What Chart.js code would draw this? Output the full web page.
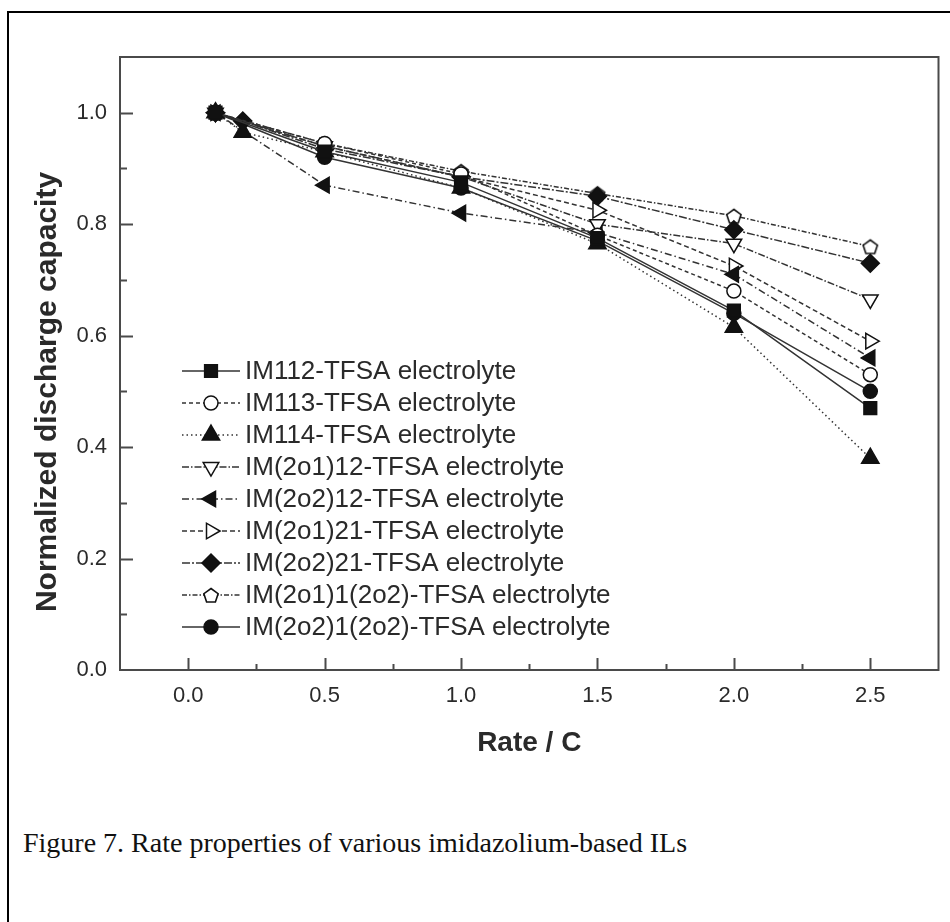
<!DOCTYPE html>
<html>
<head>
<meta charset="utf-8">
<script src="https://cdn.jsdelivr.net/npm/chart.js@4.4.1/dist/chart.umd.min.js"></script>
<style>
  html, body { margin: 0; padding: 0; background: #fff; width: 950px; height: 922px; overflow: hidden; }
  #frame { position: absolute; left: 7px; top: 11px; width: 1000px; height: 1000px; border: 2px solid #000; }
  #chart { position: absolute; left: 0; top: 0; }
  #caption { position: absolute; left: 23px; top: 828px; font-family: "Liberation Serif", "Times New Roman", serif;
             font-size: 28px; line-height: 30px; color: #111; white-space: nowrap; }
</style>
</head>
<body>
<div id="frame"></div>
<canvas id="chart" width="950" height="760"></canvas>
<div id="caption">Figure 7. Rate properties of various imidazolium-based ILs</div>
<script>
// rates (C) at which capacity was measured
const rates = [0.1, 0.5, 1.0, 1.5, 2.0, 2.5];
const ratesFine = [0.1, 0.2, 0.5, 1.0, 1.5, 2.0, 2.5];

// normalized discharge capacity per electrolyte
const im112 = [1.0, 0.93, 0.875, 0.775, 0.645, 0.47];
const im113 = [1.0, 0.945, 0.89, 0.78, 0.68, 0.53];
const im114 = [1.0, 0.965, 0.93, 0.865, 0.765, 0.615, 0.38];
const im2o1_12 = [1.0, 0.94, 0.885, 0.80, 0.765, 0.665];
const im2o2_12 = [1.0, 0.87, 0.82, 0.785, 0.71, 0.56];
const im2o1_21 = [1.0, 0.94, 0.885, 0.825, 0.725, 0.59];
const im2o2_21 = [1.0, 0.985, 0.935, 0.885, 0.85, 0.79, 0.73];
const im2o1_1_2o2 = [1.0, 0.945, 0.895, 0.855, 0.815, 0.76];
const im2o2_1_2o2 = [1.0, 0.92, 0.865, 0.77, 0.64, 0.50];

const seriesLabels = [
    'IM112-TFSA electrolyte',
    'IM113-TFSA electrolyte',
    'IM114-TFSA electrolyte',
    'IM(2o1)12-TFSA electrolyte',
    'IM(2o2)12-TFSA electrolyte',
    'IM(2o1)21-TFSA electrolyte',
    'IM(2o2)21-TFSA electrolyte',
    'IM(2o1)1(2o2)-TFSA electrolyte',
    'IM(2o2)1(2o2)-TFSA electrolyte'
];

const xTickValues = [0.0, 0.5, 1.0, 1.5, 2.0, 2.5];
const yTickValues = [0.0, 0.2, 0.4, 0.6, 0.8, 1.0];

const lineColor = '#333';
const markColor = '#111';
const axisColor = '#4a4a4a';
const textColor = '#2a2a2a';
const sansFont = '"Liberation Sans", Arial, sans-serif';

// pentagon marker is not built into Chart.js, so draw it on a small canvas
function pentagonMarker(size) {
    const c = document.createElement('canvas');
    c.width = size;
    c.height = size;
    const g = c.getContext('2d');
    const r = size / 2 - 1.5;
    g.beginPath();
    for (let k = 0; k < 5; k++) {
        const a = -Math.PI / 2 + k * 2 * Math.PI / 5;
        const px = size / 2 + r * Math.cos(a);
        const py = size / 2 + 1 + r * Math.sin(a);
        if (k === 0) g.moveTo(px, py); else g.lineTo(px, py);
    }
    g.closePath();
    g.fillStyle = '#fff';
    g.fill();
    g.lineWidth = 1.6;
    g.strokeStyle = markColor;
    g.stroke();
    return c;
}

function makeSet(label, xs, ys, style, rotation, radius, filled, dash) {
    return {
        label: label,
        data: xs.map((x, i) => ({ x: x, y: ys[i] })),
        showLine: true,
        borderColor: lineColor,
        borderWidth: 1.5,
        borderDash: dash,
        pointStyle: style,
        rotation: rotation,
        radius: radius,
        pointRadius: radius,
        pointBackgroundColor: filled ? markColor : '#fff',
        pointBorderColor: markColor,
        pointBorderWidth: 1.5
    };
}

const datasets = [
    makeSet(seriesLabels[0], rates, im112, 'rect', 0, 9, true, []),
    makeSet(seriesLabels[1], rates, im113, 'circle', 0, 7, false, [4, 3]),
    makeSet(seriesLabels[2], ratesFine, im114, 'triangle', 0, 10, true, [1.5, 3]),
    makeSet(seriesLabels[3], rates, im2o1_12, 'triangle', 180, 9, false, [7, 2, 1.5, 2]),
    makeSet(seriesLabels[4], rates, im2o2_12, 'triangle', -90, 9, true, [7, 3, 1.5, 3]),
    makeSet(seriesLabels[5], rates, im2o1_21, 'triangle', 90, 9, false, [5, 3]),
    makeSet(seriesLabels[6], ratesFine, im2o2_21, 'rectRot', 0, 9, true, [8, 2, 2, 2]),
    makeSet(seriesLabels[7], rates, im2o1_1_2o2, pentagonMarker(18), 0, 9, false, [5, 2, 1.5, 2]),
    makeSet(seriesLabels[8], rates, im2o2_1_2o2, 'circle', 0, 7, true, [])
];

// box, inward ticks, y title and the in-plot legend
const decorations = {
    id: 'decorations',
    afterDraw(chart) {
        const { ctx, chartArea: a, scales: { x, y } } = chart;
        ctx.save();
        ctx.strokeStyle = axisColor;
        ctx.lineWidth = 2;
        ctx.setLineDash([]);
        ctx.strokeRect(a.left, a.top, a.right - a.left, a.bottom - a.top);

        ctx.beginPath();
        for (let v = -0.25; v <= 2.76; v += 0.25) {
            const px = Math.round(x.getPixelForValue(v)) + 0.5;
            if (px <= a.left + 2 || px >= a.right - 2) continue;
            const major = Math.abs(v * 2 - Math.round(v * 2)) < 1e-6;
            ctx.moveTo(px, a.bottom);
            ctx.lineTo(px, a.bottom - (major ? 12 : 6));
        }
        for (let v = 0; v <= 1.1001; v += 0.1) {
            const py = Math.round(y.getPixelForValue(v)) + 0.5;
            if (py <= a.top + 2 || py >= a.bottom - 2) continue;
            const major = Math.abs(v * 5 - Math.round(v * 5)) < 1e-6;
            ctx.moveTo(a.left, py);
            ctx.lineTo(a.left + (major ? 13 : 7), py);
        }
        ctx.stroke();

        // y axis title
        ctx.save();
        ctx.translate(48, 392);
        ctx.rotate(-Math.PI / 2);
        ctx.fillStyle = textColor;
        ctx.font = 'bold 30px ' + sansFont;
        ctx.textAlign = 'center';
        ctx.textBaseline = 'middle';
        ctx.fillText('Normalized discharge capacity', 0, 0);
        ctx.restore();

        // legend
        const rowTop = 371;
        const rowGap = 32;
        chart.data.datasets.forEach((ds, i) => {
            const ry = rowTop + i * rowGap;
            ctx.strokeStyle = lineColor;
            ctx.lineWidth = 1.5;
            ctx.setLineDash(ds.borderDash);
            ctx.beginPath();
            ctx.moveTo(182, ry);
            ctx.lineTo(240, ry);
            ctx.stroke();
            ctx.setLineDash([]);
            ctx.fillStyle = ds.pointBackgroundColor;
            ctx.strokeStyle = ds.pointBorderColor;
            ctx.lineWidth = ds.pointBorderWidth;
            Chart.helpers.drawPoint(ctx, {
                pointStyle: ds.pointStyle,
                rotation: ds.rotation,
                radius: ds.pointRadius,
                borderWidth: ds.pointBorderWidth
            }, 211, ry);
            ctx.fillStyle = textColor;
            ctx.font = '26px ' + sansFont;
            ctx.textAlign = 'left';
            ctx.textBaseline = 'middle';
            ctx.fillText(ds.label, 245, ry + 1);
        });
        ctx.restore();
    }
};

new Chart(document.getElementById('chart'), {
    type: 'scatter',
    data: { datasets: datasets },
    options: {
        responsive: false,
        animation: false,
        layout: { padding: { left: 0, top: 57, right: 8, bottom: 0 } },
        plugins: {
            legend: { display: false },
            tooltip: { enabled: false }
        },
        scales: {
            x: {
                type: 'linear',
                min: -0.25,
                max: 2.75,
                afterBuildTicks: s => { s.ticks = xTickValues.map(v => ({ value: v })); },
                afterFit: s => { s.height = 90; },
                grid: { display: false, drawTicks: false },
                border: { display: false },
                ticks: {
                    padding: 13,
                    color: textColor,
                    font: { family: sansFont, size: 22 },
                    callback: v => v.toFixed(1)
                },
                title: {
                    display: true,
                    text: 'Rate / C',
                    color: textColor,
                    font: { family: sansFont, size: 28, weight: 'bold' },
                    padding: { top: 0, bottom: 0 }
                }
            },
            y: {
                type: 'linear',
                min: 0,
                max: 1.1,
                afterBuildTicks: s => { s.ticks = yTickValues.map(v => ({ value: v })); },
                afterFit: s => { s.width = 120; },
                grid: { display: false, drawTicks: false },
                border: { display: false },
                ticks: {
                    padding: 13,
                    color: textColor,
                    font: { family: sansFont, size: 22 },
                    callback: v => v.toFixed(1)
                }
            }
        }
    },
    plugins: [decorations]
});
</script>
</body>
</html>
